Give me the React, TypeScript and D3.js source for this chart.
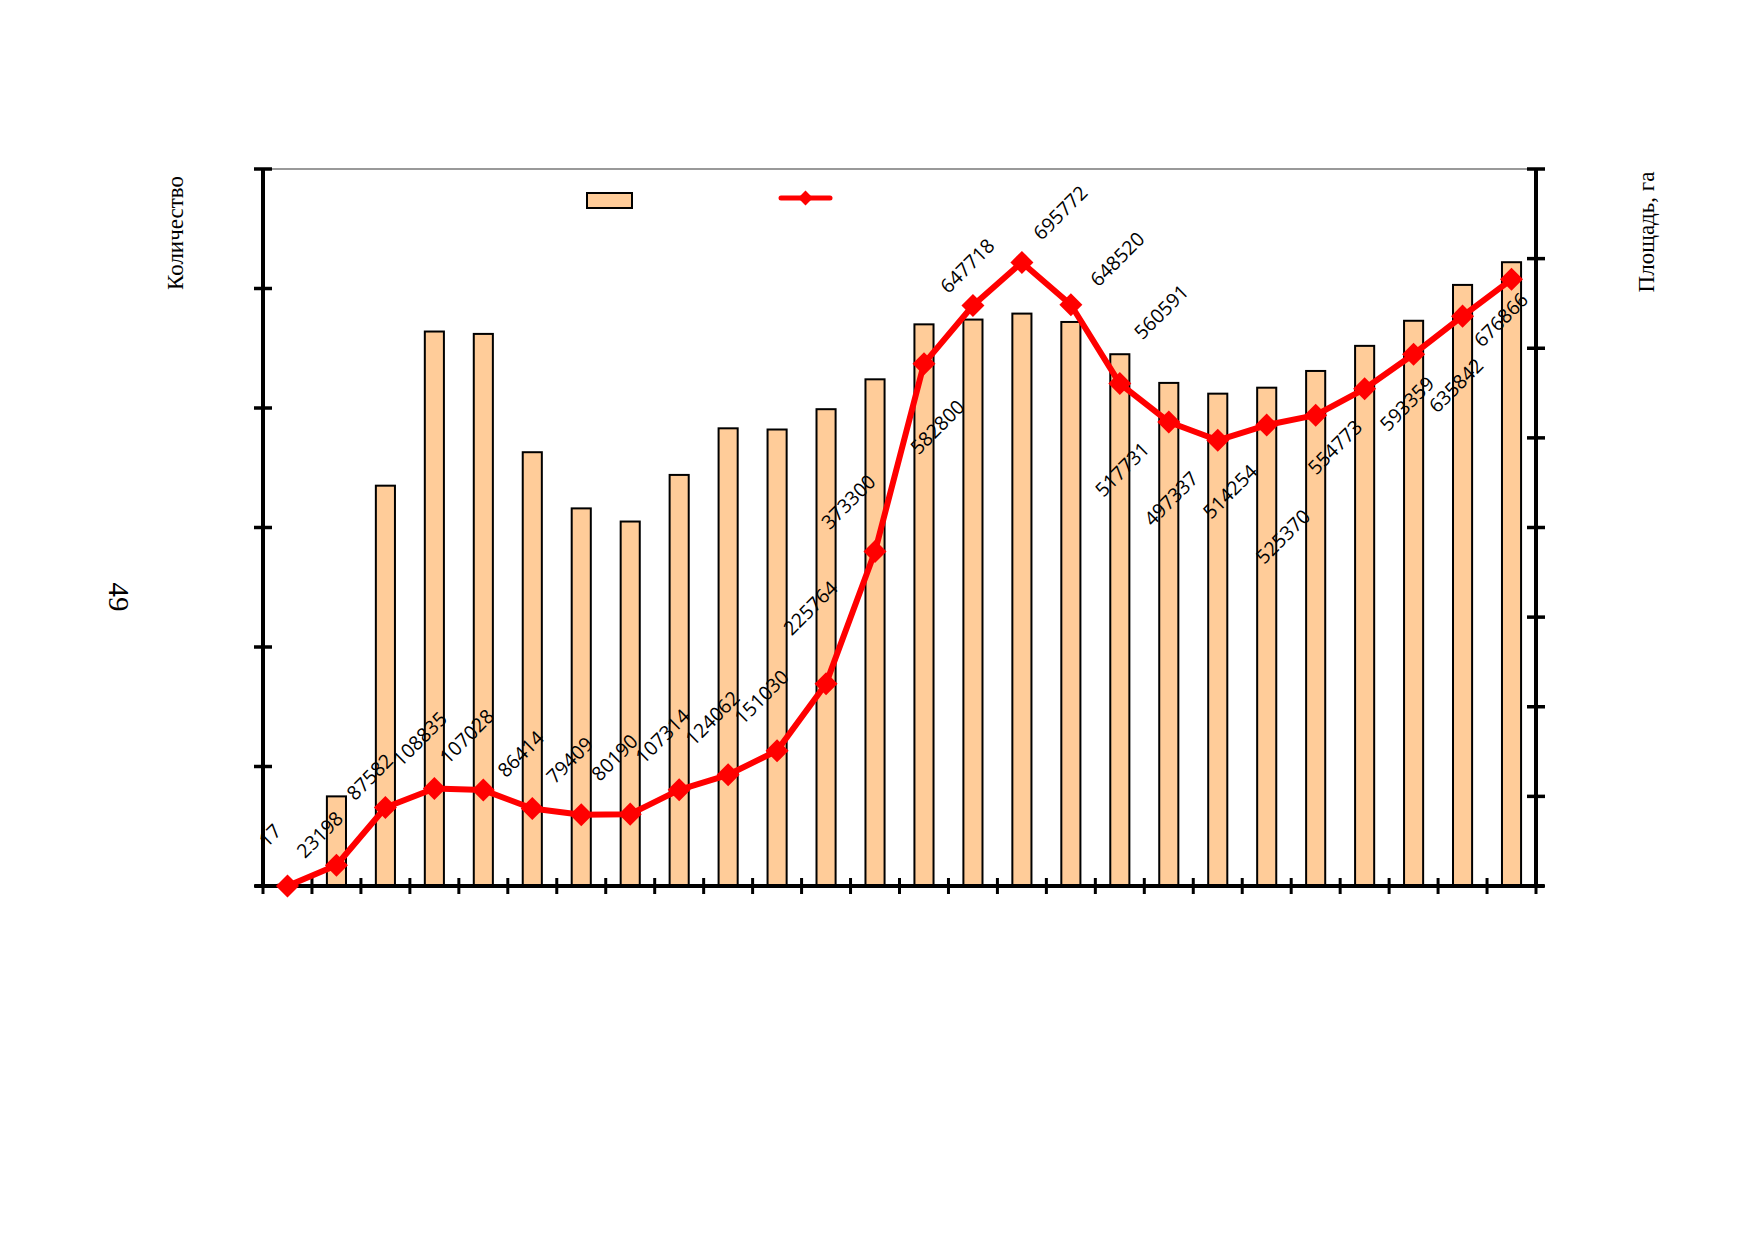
import { line as d3Line, scaleBand, scaleLinear, symbol, symbolSquare } from "d3";

// периоды (подписи категорий на рисунке не показаны)
const periods = [
  "1", "2", "3", "4", "5", "6", "7", "8", "9", "10", "11", "12", "13",
  "14", "15", "16", "17", "18", "19", "20", "21", "22", "23", "24", "25", "26",
];

// количество (столбцы, левая ось)
const counts = [
  1, 75, 335, 464, 462, 363, 316, 305, 344, 383, 382, 399, 424,
  470, 474, 479, 472, 445, 421, 412, 417, 431, 452, 473, 503, 522,
];

// площадь, га (линия, правая ось)
const areas = [
  17, 23198, 87582, 108835, 107028, 86414, 79409, 80190, 107314, 124062,
  151030, 225764, 373300, 582800, 647718, 695772, 648520, 560591, 517731,
  497337, 514254, 525370, 554773, 593359, 635842, 676866,
];

const leftTicks = [0, 100, 200, 300, 400, 500, 600];
const rightTicks = [0, 100000, 200000, 300000, 400000, 500000, 600000, 700000, 800000];

const leftTitle = "Количество";
const rightTitle = "Площадь, га";
const pageNumber = "49";

// сдвиги подписей данных относительно точек (как расставлены вручную в оригинале)
const labelShift: Array<[number, number]> = [
  [-18, -51], [-17, -31], [-16, -31], [-15, -50], [-17, -54], [-12, -55],
  [-12, -55], [-16, -57], [-17, -54], [-16, -57], [-16, -54], [-16, -76],
  [-27, -50], [13, 63], [-6, -40], [38, -50], [46, -46], [41, -72],
  [-47, 47], [-47, 58], [-37, 66], [-33, 121], [-30, 58], [-7, 49],
  [-7, 69], [-11, 40],
];

const W = 1754;
const H = 1239;
const plot = { left: 263, right: 1536, top: 169, bottom: 886 };
const serif = "'Liberation Serif', 'Times New Roman', serif";

export default function App() {
  const x = scaleBand<string>().domain(periods).range([plot.left, plot.right]).padding(0);
  const yLeft = scaleLinear().domain([0, 600]).range([plot.bottom, plot.top]);
  const yRight = scaleLinear().domain([0, 800000]).range([plot.bottom, plot.top]);
  const cx = (p: string) => (x(p) ?? 0) + x.bandwidth() / 2;
  const barW = x.bandwidth() * 0.39;

  const pts = periods.map((p, i) => ({ x: cx(p), y: yRight(areas[i]), v: areas[i] }));
  const linePath = d3Line<{ x: number; y: number }>()
    .x((d) => d.x)
    .y((d) => d.y)(pts) ?? "";
  const diamond = symbol().type(symbolSquare).size(265)() ?? "";
  const smallDiamond = symbol().type(symbolSquare).size(110)() ?? "";

  const bandEdges = [...periods.map((p) => x(p) ?? 0), plot.right];

  return (
    <>
      <style>{"body{margin:0}"}</style>
      <svg width={W} height={H} style={{ display: "block", background: "#fff" }}>
        {/* верхняя граница области построения */}
        <line x1={plot.left} x2={plot.right} y1={plot.top} y2={plot.top} stroke="#999" strokeWidth={2} />

        {/* столбцы */}
        {periods.map((p, i) => (
          <rect
            key={`b-${p}`}
            x={cx(p) - barW / 2}
            y={yLeft(counts[i])}
            width={barW}
            height={plot.bottom - yLeft(counts[i])}
            fill="#ffcc99"
            stroke="#000"
            strokeWidth={2}
          />
        ))}

        {/* оси */}
        <line x1={plot.left} x2={plot.left} y1={plot.top} y2={plot.bottom} stroke="#000" strokeWidth={4} />
        <line x1={plot.right} x2={plot.right} y1={plot.top} y2={plot.bottom} stroke="#000" strokeWidth={4} />
        <line x1={plot.left - 8} x2={plot.right + 8} y1={plot.bottom} y2={plot.bottom} stroke="#000" strokeWidth={4} />
        {leftTicks.map((t) => (
          <line key={`lt-${t}`} x1={plot.left - 9} x2={plot.left + 9} y1={yLeft(t)} y2={yLeft(t)} stroke="#000" strokeWidth={3.5} />
        ))}
        {rightTicks.map((t) => (
          <line key={`rt-${t}`} x1={plot.right - 9} x2={plot.right + 9} y1={yRight(t)} y2={yRight(t)} stroke="#000" strokeWidth={3.5} />
        ))}
        {bandEdges.map((e, i) => (
          <line key={`xt-${i}`} x1={e} x2={e} y1={plot.bottom - 8} y2={plot.bottom + 8} stroke="#000" strokeWidth={3} />
        ))}

        {/* линия площади */}
        <path d={linePath} fill="none" stroke="#ff0000" strokeWidth={6} strokeLinejoin="round" />
        {pts.map((d, i) => (
          <path key={`m-${i}`} d={diamond} transform={`translate(${d.x},${d.y}) rotate(45)`} fill="#ff0000" />
        ))}

        {/* подписи данных */}
        {pts.map((d, i) => (
          <text
            key={`l-${i}`}
            transform={`translate(${d.x + labelShift[i][0]},${d.y + labelShift[i][1]}) rotate(-45)`}
            textAnchor="middle"
            dominantBaseline="central"
            fontFamily="'Open Sans', sans-serif"
            fontSize={19.5}
            fill="#000"
          >
            {d.v}
          </text>
        ))}

        {/* легенда */}
        <rect x={587} y={193} width={45} height={15} fill="#ffcc99" stroke="#000" strokeWidth={2} />
        <line x1={781} x2={830} y1={198} y2={198} stroke="#ff0000" strokeWidth={5} strokeLinecap="round" />
        <path d={smallDiamond} transform="translate(805.5,198) rotate(45)" fill="#ff0000" />

        {/* названия осей */}
        <text transform="translate(183,233) rotate(-90)" textAnchor="middle" fontFamily={serif} fontSize={23}>
          {leftTitle}
        </text>
        <text transform="translate(1654,232) rotate(-90)" textAnchor="middle" fontFamily={serif} fontSize={23}>
          {rightTitle}
        </text>
        <text transform="translate(109,597) rotate(90)" textAnchor="middle" fontFamily={serif} fontSize={29}>
          {pageNumber}
        </text>
      </svg>
    </>
  );
}
